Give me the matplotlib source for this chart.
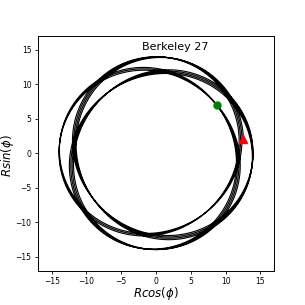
import matplotlib
matplotlib.use("Agg")
import matplotlib.pyplot as plt
import numpy as np

# orbit of Berkeley 27
cluster = "Berkeley 27"
present_xy = [12.57, 2.10]   # red triangle
birth_xy = [8.76, 6.99]      # green dot
r_peri = 11.16
r_apo = 13.95
# azimuth (deg, counted along the orbit) of each apocentre passage
apo_phi = [71.7, 343.3, 614.9, 886.5, 1158.1, 1429.7, 1701.3, 1972.9,
           2244.5, 2516.1, 2787.8, 3059.4, 3331.0, 3602.6, 3874.2]
ticks = [-15, -10, -5, 0, 5, 10, 15]


def orbit_xy(phi_start, phi_end):
    # radius swings between apocentre and pericentre between the passages
    ap = np.array(apo_phi)
    ap = np.concatenate([[2 * ap[0] - ap[1]], ap, [2 * ap[-1] - ap[-2]]])
    phase = 360.0 * np.arange(-1, len(ap) - 1)
    phi = np.linspace(phi_start, phi_end, 30000)
    psi = np.interp(phi, ap, phase)
    r = (r_apo + r_peri) / 2 + (r_apo - r_peri) / 2 * np.cos(np.radians(psi))
    return r * np.cos(np.radians(phi)), r * np.sin(np.radians(phi))


phi0 = np.degrees(np.arctan2(present_xy[1], present_xy[0]))
phi1 = np.degrees(np.arctan2(birth_xy[1], birth_xy[0])) + 3960.0
x, y = orbit_xy(phi0, phi1)

fig = plt.figure(figsize=(3.05, 3.05), dpi=100)
ax = fig.add_axes([0.124, 0.1125, 0.775, 0.7705])
ax.plot(x, y, color='black', lw=0.8)
ax.plot(birth_xy[0], birth_xy[1], 'o', color='green', ms=5)
ax.plot(present_xy[0], present_xy[1], '^', color='red', ms=5.5)
ax.set_xlim(-17, 17)
ax.set_ylim(-17, 17)
ax.set_xticks(ticks)
ax.set_yticks(ticks)
ax.tick_params(labelsize=5.5, length=2.5, width=0.6, pad=2)
for s in ax.spines.values():
    s.set_linewidth(0.7)
ax.set_xlabel(r'$Rcos(\phi)$', fontsize=8.5)
ax.set_ylabel(r'$Rsin(\phi)$', fontsize=8.5)
ax.xaxis.set_label_coords(0.5, -0.063)
ax.yaxis.set_label_coords(-0.092, 0.49)
ax.text(2.8, 15.4, cluster, ha='center', va='center', fontsize=8)
fig.savefig("out.png")
